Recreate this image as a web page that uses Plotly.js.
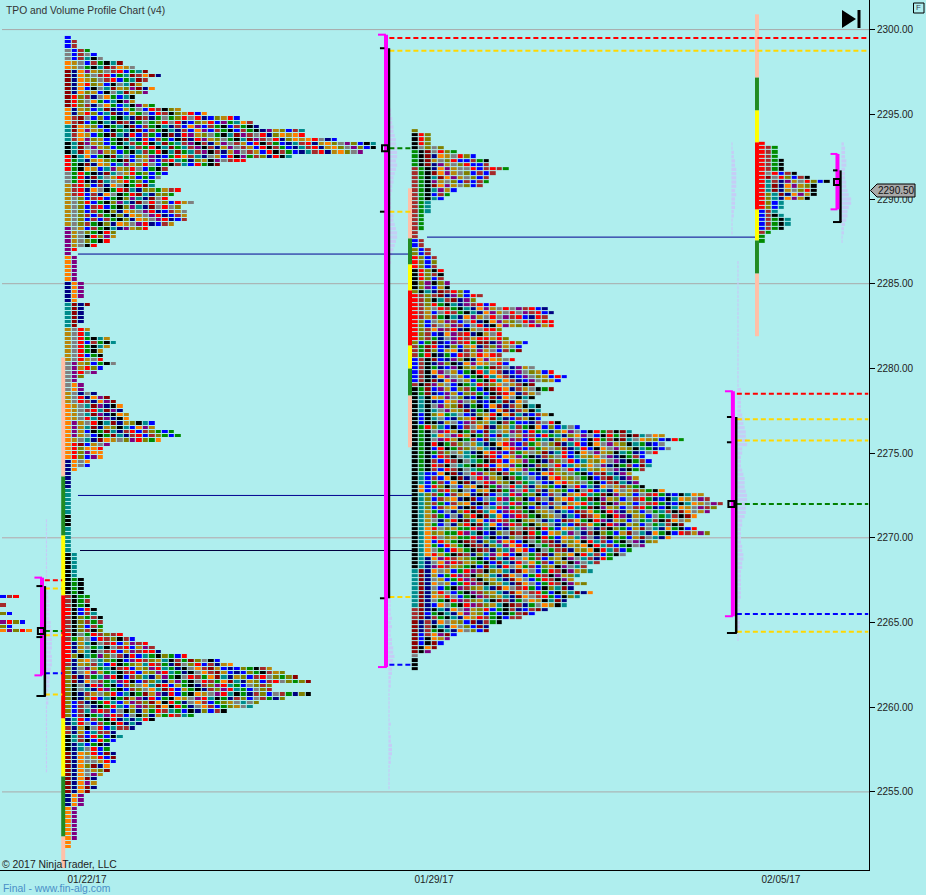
<!DOCTYPE html>
<html><head><meta charset="utf-8">
<script src="https://cdn.plot.ly/plotly-3.0.1.min.js"></script>
<style>html,body{margin:0;padding:0;background:#afeeee}#c{width:926px;height:895px}</style>
</head><body><div id="c"></div>
<script>
// ---------- cell colours ----------
const letters = "kbnrsmgtoyepa";
const palette = ["#000000","#0000ff","#000080","#ff0000","#a52a2a","#8b0000","#008b00","#008b8b","#808000","#b8860b","#ff8000","#800080","#808080"];
// ---------- axis ----------
const dateTicks = [0, 7, 14];
const dateLabels = ["01/22/17", "01/29/17", "02/05/17"];
const gridPrices = [2300, 2285, 2270, 2255];
// ---------- profile for the week of 01/22 : TPO count per 0.25 price row, top down from 2299.50 ----------
const p1Top = 2299.5;
const p1Counts = [1,2,2,4,5,6,9,11,13,15,13,12,14,13,11,11,14,18,22,27,29,30,37,37,42,48,48,46,35,28,24,16,16,15,14,14,18,17,16,20,18,19,19,19,17,13,8,8,7,5,2,1,2,
 2,2,2,2,2,3,3,3,3,2,4,3,3,3,3,2,4,4,7,8,7,6,6,6,8,6,5,3,2,3,3,5,7,8,9,9,10,10,14,14,17,18,15,7,6,6,6,4,4,2,1,1,1,1,
 1,1,1,1,1,1,1,1,1,1,1,1,
 1,1,1,2,2,2,2,2,2,3,3,3,3,4,4,4,5,5,6,6,6,6,9,11,13,14,15,19,24,26,32,34,36,38,32,32,38,34,30,29,25,20,14,12,11,8,9,8,7,7,8,8,8,7,7,6,5,5,5,4,3,3,3,2,2,2,2,2,2,2,2,1,1];
const p1Colours = [
 [3,"bss"],[3,"absgtk"],[2,"eyabsgktms"],[3,"mnepyoasrbgtmse"],[3,"mneroybkatmyop"],[3,"mrosnaegbtkpyg"],
 [2,"enyarobtmnbygabrskoyrb"],[2,"esmabobgktnmsngagorarnboyrbpgt"],[2,"tmepyobkgtkmbsgktnsbepbsgkbsgknpyobs"],
 [2,"tsepoybgkmtnrbsgbkmnrpyoagktmpsarnoeyeranb"],[3,"ktmeapyobgktsgrktmgtspksnypasybrksgbntsrnyeoapob"],
 [1,"rktnsyebgkmtaboypnbgrestnaybrkpgson"],[1,"rgtsnyeogkmbaypbsrtgnoykpasr"],[2,"rgkmneybtpyorabgkstb"],
 [3,"agrgknmtayrgobgb"],[3,"ysrobsneakgrmtnoog"],[3,"yaobsrbgkoptnmaraobr"],[4,"yaobsbsgkoneyaprnbs"],
 [1,"payobsgktnpyor"],[4,"pyaogkro"],[1,"pr"],[1,"p"],[1,"ep"],
 [5,"ep"],[4,"nep"],[1,"ne"],[1,"tmne"],[4,"tmn"],[1,"tm"],[2,"yart"],[3,"yarbsgkt"],[3,"yarbgk"],[1,"apyrobgk"],[1,"apyrob"],[1,"aprob"],
 [1,"apo"],[1,"ap"],[2,"aep"],[1,"yanep"],[2,"yarsnepm"],[4,"eyasrtmpnk"],[2,"epyarktmnyoktb"],[2,"epyabkgmtnsrbsogbg"],[1,"eyarktnmeyaoprog"],
 [1,"ermbyap"],[3,"erobpe"],[2,"nearb"],[1,"ne"],[4,"n"],
 [6,"t"],[3,"k"],[3,"t"],
 [3,"t"],[6,"kt"],[4,"kgk"],[3,"skgk"],[2,"rkbst"],[4,"skobsg"],[1,"rkasgrsos"],[1,"sgyabrsoksb"],[3,"rnyagtkasrbypsr"],
 [1,"rokatgpoasnrbtgkogb"],[1,"rnyeatogkbprsoytksgmoakb"],[1,"snyeapostbrkgoytrsgnmaorb"],[2,"onaepygtksrbyoprtgnkaesmybnbogksy"],
 [2,"omneasgtprkbsotnypgkarsgemtnyobsraog"],[2,"okaytnrpgkbsoaetmrbygknsoprtgbaos"],[2,"oknsyaorbtkgmypnrbgkeyaprtkgnsobasgn"],
 [2,"obsankgrtbypsomekrgnaesbgoyata"],[2,"obskgtprsbakonygrstgbkn"],[2,"ntrkabsgkrnt"],[2,"snykarbts"],[2,"ktskbrgb"],
 [2,"kntarbg"],[3,"mneaayrb"],[2,"mneaayo"],[1,"mneapy"],[3,"mnepy"],[1,"mnep"],[3,"nep"],[8,"ep"],[2,"e"]];
// ---------- profile for the week of 01/29 ----------
const p2Top = 2294;
const p2Counts = [1,3,3,3,5,7,10,12,12,15,13,12,12,11,7,6,5,3,3,3,2,2,2,2,1,1,2,2,3,3,4,4,4,5,5,5,6,6,
 9,11,10,13,21,22,21,22,22,14,14,15,18,17,17,14,16,15,19,22,24,23,19,22,20,19,18,20,20,22,20,23,26,
 34,39,42,39,40,38,36,37,37,36,34,35,35,36,39,45,46,48,47,46,44,43,42,44,46,40,38,36,34,33,31,29,27,28,26,25,27,25,28,26,24,24,21,19,17,14,12,12,7,6,5,4,3,1,1,1,1];
const p2Colours = [
 [1,"o"],[3,"kro"],[1,"kaoro"],[1,"gkmearo"],[1,"gkmneyarob"],[2,"gkmnpyaorbbs"],[1,"sgktmnepyaarbsr"],[4,"sgktmepyaobsb"],[1,"sgktpyb"],[1,"sgktpb"],[1,"sgktb"],
 [3,"sgt"],[4,"sg"],[2,"s"],[2,"bs"],[2,"obs"],[3,"robs"],[3,"krobs"],[2,"koprby"],
 [1,"oktnmsrob"],[2,"rsoktsmnpob"],[1,"rsobsrgktnpsrb"],[3,"rsybarsgktnepyarapsrbn"],[2,"robsaypsbarnkepyoarpyrr"],[2,"rosbnepsrnkyar"],[1,"roskbgnaprsyrry"],
 [1,"obgkmnbpsrgmmnpyr"],[2,"sgmrbnobyensopyab"],[1,"sgrbkngbrsyrer"],[2,"bskmbnpoknepeyar"],[1,"bskgnbpkoytgmsanpya"],[3,"bskmnepaybgkrtesnbpaoybr"],
 [1,"skmbnepyabkgtrsoeay"],[2,"kgmnbpybosgbkmrensya"],[2,"ktknbeypaonbktmnea"],[2,"ktkbtapyomngkbemnsy"],[2,"kbkoegtabnoyrkemtnbsy"],[1,"kbkeknyabpsoytksgbbnsar"],[1,"kgrotbkbsaemnoytsgkebobtab"],
 [3,"kgkteaprykgsbmtaypsbrgtnoepabkrgskmtaeyobnrgpkto"],[3,"kgkbrkgsoaytnkerpbsgyaomntrbkeapyoktgnbarseogyapk"],[4,"kgksbrskatgkmrbeypgknsoarbtyoeapnkgsbmtrypoa"],
 [3,"ktbgsbekmnarpyoksgtabneryoagkbsmtnpyobaerg"],[2,"kebntsrokabyekmgpartsnyogbkarbtneaysog"],[4,"ktosgbsyenkmbatrpgokbsanyertgmkpyobasrgnbkteyapso"],
 [4,"ktysgbanorkmtebprsgkoyantbmsegkrpnyobagtskmeaypob"],[3,"kteraoyggrptkbnoamskrgbeytpanskogbymatnegkbrsypos"],[4,"kteagbrygkmsnotperbkagsmnyoekrtsbgkapnoyrbgsatkmn"],
 [3,"ktnaeprsyogkbmtnraegsboykpatsnrgoybk"],[4,"tmneaybgrpskoytnmeabgrskpyotb"],[3,"tmneyrabgkpsoytnmeasrgbko"],[2,"tmnbeagkrpsoytkmsngaeyk"],
 [1,"smnbgktneapyorbgksnb"],[1,"smbrgktnepyobgbkg"],[1,"smnsgktneyrsgkbs"],[1,"mnsgktneayob"],[2,"mnsgktneaob"],[1,"mbskyep"],[1,"mbkeyp"],[1,"mbkep"],[1,"mkep"],[1,"mkp"],[1,"a"],[3,"k"]];
// ---------- current week, read cell by cell ----------
const p3Top = 2293.25;
const p3Rows = ["r","rsg","rsg","rsg","rsgk","rsgk","rsgk","rarbsk","rmarobsk","rtsnpyarobk","rtmnepyok","rtmnyaork","rotmnepyk","rotnepyk","robt","robt","bst","bskt","bsgkt","bsgkt","bsgk","sg","g","g"];
// ---------- tail of the previous week ----------
const p0Top = 2266.5;
const p0Rows = ["bsr","","s","","ob","","prob","ob","epore"];
// ---------- faint volume profiles: [top price, base day, row values] ----------
const volume = [
 [2271, -0.83, [1,1,1,1,1,1,1,1,1,1,1,1,1,1,1,1,2,2,2,3,3,3,3,3,4,4,5,5,5,5,5,4,5,5,5,4,4,3,3,3,2,2,2,2,1,1,1,1,1,1,1,1,1,1,1,1,1,1,1,1]],
 [2295.25, 6.11, [1,1,2,2,3,3,4,5,5,6,6,6,5,6,5,4,3,3,2,2,1,1,1,1,2,3,3,4,5,6,6,5,4,3,2,1,1]],
 [2266.5, 6.08, [1,2,2,2,2,3,2,3,2,2,3,3,4,4,5,4,4,3,3,2,2,2,1,1,1,1,1,1,1,1,2,1,1,2,2,3,3,3,2,2,1,1,1,1,1,1]],
 [2293.25, 13.0, [1,1,2,2,3,3,4,4,4,4,4,3,4,3,3,3,2,2,1,1,1,1]],
 [2286.25, 13.12, [1,1,1,1,1,1,1,1,1,1,1,1,1,1,1,1,1,1,1,1,1,1,1,1,1,1,1,1,1,1,3,3,3,3,3,3,4,5,5,6,7,7,8,8,4,4,3,3,3,4,5,6,6,6,7,8,8,8,7,7,6,4,4,3,3,3,3,4,4,5,5,4,4,3,3,3,3,3,3,3,2,2,2,2,2,2,2,1,1,1]],
 [2293.25, 15.22, [2,3,3,3,4,4,3,3,3,4,4,5,6,8,8,6,5,5,4,3,2,2,1,1]]];
// ---------- session bars: day, then [from price, to price, colour] ----------
const salmon="#ffc0a8", forest="#228b22", yellow="#ffff00", red="#ff0000";
const sessionBars = [
 [-0.48, [[2250.5,2252.38,salmon],[2252.38,2255.92,forest],[2255.92,2259.35,yellow],[2259.35,2266.61,red],[2266.61,2270.15,yellow],[2270.15,2273.63,forest],[2273.63,2280.65,salmon]]],
 [6.516, [[2275.34,2278.41,salmon],[2278.41,2280,forest],[2280,2281.36,yellow],[2281.36,2284.61,red],[2284.61,2286.15,yellow],[2286.15,2287.68,forest],[2287.68,2290.63,salmon]]],
 [13.516,[[2281.9,2285.61,salmon],[2285.61,2287.56,forest],[2287.56,2289.39,yellow],[2289.39,2293.35,red],[2293.35,2295.24,yellow],[2295.24,2297.18,forest],[2297.18,2300.9,salmon]]]];
// ---------- value-area markers ----------
const magentaBars = [[-0.908,2261.88,2267.65],[6.032,2262.37,2299.7],[13.03,2265.37,2278.65],[15.14,2289.39,2292.66]];
const blackBars = [[-0.85,2260.66,2267.15],[6.092,2266.43,2298.9],[13.097,2264.38,2277.13],[15.2,2288.64,2291.69]];
const magentaCaps = [[-1.06,-0.908,2267.65],[-1.06,-0.908,2261.88],[5.87,6.03,2299.7],[5.87,6.05,2262.37],[12.87,13.03,2278.65],[12.87,13.03,2265.37],[15.0,15.14,2292.66],[15.0,15.14,2289.39]];
const blackTicks = [[-1.02,-0.9,2267.15],[-1.02,-0.9,2264.14],[-1.02,-0.83,2260.66],[5.91,6.0,2298.9],[5.91,6.0,2289.25],[5.91,6.0,2266.43],[12.91,13.0,2277.13],[12.91,13.0,2275.64],[12.91,13.11,2264.38],[15.05,15.14,2291.69],[15.05,15.22,2288.64]];
const pocDays = [-0.93, 6.012, 13.0, 15.13];
const pocPrices = [2264.5, 2293, 2272, 2291];
const dashRed = [[-0.85,-0.5,2267.5],[6.1,15.76,2299.5],[13.11,15.76,2278.5]];
const dashYellow = [[-0.85,-0.5,2267],[-0.85,-0.5,2264.25],[-0.85,-0.5,2260.75],[6.1,15.76,2298.75],[6.1,6.55,2289.25],[6.1,6.55,2266.5],[13.11,15.76,2277],[13.11,15.76,2275.75],[13.11,15.76,2264.45]];
const dashGreen = [[-0.85,-0.5,2264.5],[6.1,6.55,2293],[13.11,15.76,2272]];
const dashBlue = [[-0.85,-0.5,2262],[6.1,6.55,2262.5],[13.11,15.76,2265.5]];
const nakedNavy = [[-0.182,6.536,2286.75],[6.859,13.516,2287.75],[-0.182,6.556,2272.5]];
const nakedDark = [[-0.141,6.556,2269.25]];
const lastPrice = "2290.50";

// ---------- geometry of the axes ----------
const plotW = 869, plotH = 870, colDays = 0.13113;
const px = v => v / plotW, py = v => 1 - v / plotH;
const jitter = [0,2,1,0,3,1,0,2];

function expand(counts, bands){
  const rows = []; let b = 0, left = bands[0][0];
  counts.forEach((n,i)=>{
    const s = bands[b][1]; let r = "";
    for(let c=0;c<n;c++){ const k = c<3 ? c : c+jitter[i%8]; r += s[k % s.length]; }
    rows.push(r);
    if(--left===0 && b<bands.length-1){ b++; left = bands[b][0]; }
  });
  return rows;
}
function cells(rows, top, firstDay){
  const w = Math.max(...rows.map(r=>r.length));
  const z = rows.map(r=>{ const a=[]; for(let c=0;c<w;c++) a.push(c<r.length ? letters.indexOf(r[c])+0.5 : null); return a; }).reverse();
  const scale = []; palette.forEach((col,i)=>{ scale.push([i/palette.length,col],[(i+1)/palette.length,col]); });
  return {type:"heatmap", z, x0:firstDay, dx:colDays, y0:top-(rows.length-1)*0.25, dy:0.25, xgap:1, ygap:1,
    zmin:0, zmax:palette.length, colorscale:scale, showscale:false, hoverinfo:"skip"};
}
function hseg(list,color,width,dash){
  const x=[],y=[]; list.forEach(s=>{x.push(s[0],s[1],null);y.push(s[2],s[2],null);});
  return {type:"scatter",mode:"lines",x,y,line:{color,width,dash:dash||"solid"},hoverinfo:"skip",showlegend:false};
}
function vseg(list,color,width){
  const x=[],y=[]; list.forEach(s=>{x.push(s[0],s[0],null);y.push(s[1],s[2],null);});
  return {type:"scatter",mode:"lines",x,y,line:{color,width},hoverinfo:"skip",showlegend:false};
}
const traces = [
  cells(p0Rows,p0Top,-1.69),
  cells(expand(p1Counts,p1Colours),p1Top,-0.383),
  cells(expand(p2Counts,p2Colours),p2Top,6.617),
  cells(p3Rows,p3Top,13.617)
];
volume.forEach(v=>{
  traces.push({type:"bar",orientation:"h",y:v[2].map((_,i)=>v[0]-i*0.25),x:v[2].map(n=>n*0.0245),base:v[1],width:0.19,
    marker:{color:"#c5cdf6",line:{width:0}},hoverinfo:"skip",showlegend:false});
});
traces.push(hseg(nakedNavy,"#000090",1), hseg(nakedDark,"#000040",1));
sessionBars.forEach(s=>{ s[1].forEach(seg=>{ traces.push(vseg([[s[0],seg[0],seg[1]]],seg[2],4)); }); });
traces.push(
  hseg(dashRed,"#ff0000",2,"5px,3px"), hseg(dashYellow,"#ffd700",2,"5px,3px"),
  hseg(dashGreen,"#008000",2,"5px,3px"), hseg(dashBlue,"#0000ff",2,"5px,3px"),
  vseg(blackBars,"#000000",2.5), vseg(magentaBars,"#ff00ff",4),
  hseg(magentaCaps,"#ff00ff",2), hseg(blackTicks,"#000000",2),
  {type:"scatter",mode:"markers",x:pocDays,y:pocPrices,hoverinfo:"skip",showlegend:false,
   marker:{symbol:"square-open",size:6,color:"#000000",line:{color:"#000000",width:2}}}
);
const textAt = (x,y,text,size,color,extra)=>Object.assign({xref:"paper",yref:"paper",x:px(x),y:py(y),text,showarrow:false,
   xanchor:"left",yanchor:"middle",font:{family:"Liberation Sans, Arial",size,color}},extra||{});
const layout = {
  width:926,height:895,margin:{l:0,r:57,t:0,b:25,pad:0},showlegend:false,barmode:"overlay",
  paper_bgcolor:"#afeeee",plot_bgcolor:"#afeeee",
  font:{family:"Liberation Sans, Arial",size:10,color:"#222"},
  xaxis:{range:[-1.755,15.776],tickmode:"array",tickvals:dateTicks,ticktext:dateLabels,ticks:"",showgrid:false,zeroline:false,
         showline:true,linecolor:"#000",linewidth:1,tickfont:{size:10,color:"#222"},fixedrange:true},
  yaxis:{range:[2250.39,2301.747],side:"right",dtick:5,tick0:2255,tickformat:".2f",ticks:"outside",ticklen:5,tickcolor:"#000",tickwidth:1,
         showgrid:false,zeroline:false,showline:true,linecolor:"#000",linewidth:1,tickfont:{size:10,color:"#222"},fixedrange:true},
  shapes:[
    ...gridPrices.map(p=>({type:"line",layer:"below",xref:"paper",x0:px(2),x1:1,yref:"y",y0:p,y1:p,line:{color:p===2270?"#b6a6aa":"#a9a9a9",width:1}})),
    {type:"path",xref:"paper",yref:"paper",path:`M${px(842)},${py(10)} L${px(856)},${py(19)} L${px(842)},${py(28)} Z`,fillcolor:"#000",line:{width:0}},
    {type:"rect",xref:"paper",yref:"paper",x0:px(857.5),x1:px(860.5),y0:py(10),y1:py(28),fillcolor:"#000",line:{width:0}},
    {type:"rect",xref:"paper",yref:"paper",x0:px(913.5),x1:px(924),y0:py(3),y1:py(13),fillcolor:"rgba(0,0,0,0)",line:{color:"#000",width:1}},
    {type:"path",xref:"paper",yref:"paper",path:`M${px(870.5)},${py(190.5)} L${px(877)},${py(184)} L${px(915)},${py(184)} L${px(915)},${py(197)} L${px(877)},${py(197)} Z`,fillcolor:"#a9a9a9",line:{color:"#000",width:1}}
  ],
  annotations:[
    textAt(4,11,"TPO and Volume Profile Chart (v4)",10.3,"#333"),
    textAt(0,864,"© 2017 NinjaTrader, LLC",10.4,"#222"),
    textAt(1,888,"Final - www.fin-alg.com",10.4,"#4a8fc8"),
    textAt(918.7,8,"F",8,"#445",{xanchor:"center"}),
    textAt(896,190.5,lastPrice,10,"#111",{xanchor:"center"})
  ]
};
Plotly.newPlot("c",traces,layout,{displayModeBar:false,staticPlot:true});
</script></body></html>
